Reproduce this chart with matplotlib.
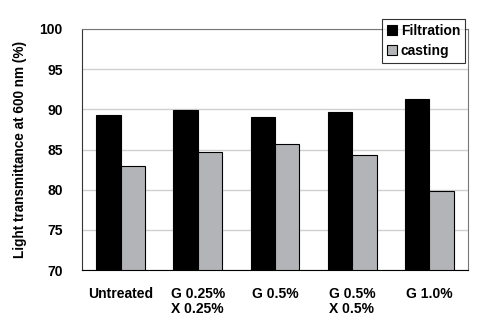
import numpy as np
import matplotlib.pyplot as plt

plt.rcParams['font.family'] = ['Liberation Sans', 'DejaVu Sans']
plt.rcParams['font.weight'] = 'bold'
plt.rcParams['axes.labelweight'] = 'bold'

# --- data ---
categories = ['Untreated', 'G 0.25%\nX 0.25%', 'G 0.5%', 'G 0.5%\nX 0.5%', 'G 1.0%']
filtration = [89.3, 89.9, 89.1, 89.7, 91.25]
casting = [83.0, 84.7, 85.7, 84.3, 79.8]

fig = plt.figure(figsize=(4.85, 3.22), dpi=100)
ax = fig.add_axes([82 / 485, 1 - 270 / 322, 386 / 485, 241 / 322])

x = np.arange(len(categories))
w = 0.317
ax.bar(x - w / 2, np.array(filtration) - 70, w, bottom=70, color='black',
       edgecolor='black', linewidth=0.8, label='Filtration', zorder=3)
ax.bar(x + w / 2, np.array(casting) - 70, w, bottom=70, color='#b3b4b7',
       edgecolor='black', linewidth=0.8, label='casting', zorder=3)

ax.set_xlim(-0.5, len(categories) - 0.5)
ax.set_ylim(70, 100)
ax.set_yticks(range(70, 101, 5))
ax.yaxis.grid(True, color='#d0d0d0', linewidth=1.0, zorder=0)
ax.tick_params(axis='both', length=0, labelsize=10)
ax.tick_params(axis='y', pad=14)
ax.tick_params(axis='x', pad=12)
ax.set_xticks(x)
ax.set_xticklabels(categories, multialignment='left', linespacing=1.1)
ax.set_ylabel('Light transmittance at 600 nm (%)', fontsize=9.8, labelpad=9)

for side in ['top', 'right']:
    ax.spines[side].set_color('#777777')
ax.spines['left'].set_color('#333333')
ax.spines['bottom'].set_color('black')

leg = ax.legend(loc='upper right', bbox_to_anchor=(465 / 386 - 82 / 386, 1 + 10 / 241),
                frameon=True, fancybox=False, fontsize=10, handlelength=0.7,
                handleheight=0.7, handletextpad=0.3, borderpad=0.35,
                labelspacing=0.45, borderaxespad=0)
leg.get_frame().set_edgecolor('black')
leg.get_frame().set_linewidth(0.8)

fig.savefig('out.png', dpi=100)
